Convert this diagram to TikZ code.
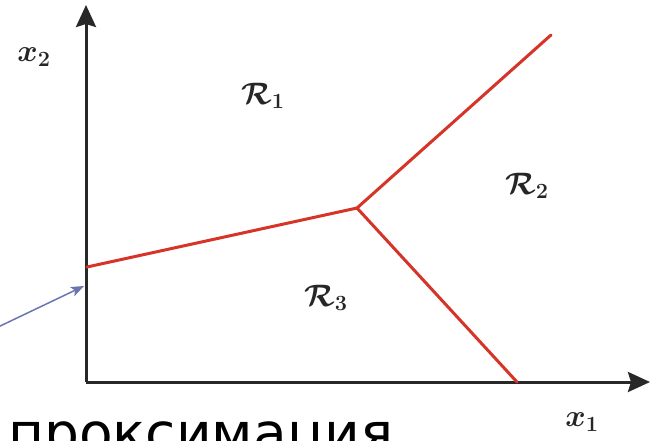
\RequirePackage{fix-cm}
\documentclass[tikz,border=0pt]{standalone}
\usepackage{fontspec}
\newfontfamily\ruf{DejaVu Sans}
\usetikzlibrary{arrows.meta}
\definecolor{bnd}{RGB}{214,52,40}
\definecolor{axc}{RGB}{40,40,40}
\definecolor{ptr}{RGB}{106,118,176}
\tikzset{
  axis/.style={draw=axc,line width=3pt,-{Stealth[length=22pt,width=20pt,inset=3pt]}},
  border/.style={draw=bnd,line width=3pt,line cap=round,line join=round},
  pointer/.style={draw=ptr,line width=1.5pt,-{Stealth[length=13pt,width=10pt,inset=3pt]}},
  lbl/.style={inner sep=0pt,text=black!85,font=\fontsize{31}{36}\selectfont\boldmath},
}
\begin{document}
\begin{tikzpicture}[x=1pt,y=-1pt]
\useasboundingbox (0,0) rectangle (654,440);
\clip (0,0) rectangle (654,440);
\coordinate (O) at (86,382);
\coordinate (ytip) at (86,5);
\coordinate (xtip) at (650,382);
\coordinate (L) at (87,267);
\coordinate (J) at (357,208);
\coordinate (TR) at (551,35);
\coordinate (B) at (517,382);
\coordinate (ps) at (-4,328);
\coordinate (pe) at (84,286);
\draw[axis] (O) -- (ytip);
\draw[axis] (O) -- (xtip);
\draw[border] (L) -- (J) -- (TR);
\draw[border] (J) -- (B);
\draw[pointer] (ps) -- (pe);
\node[lbl] (x2) at (34,57) {$x_2$};
\node[lbl] (x1) at (582,422) {$x_1$};
\node[lbl] (R1) at (263,96) {$\mathcal{R}_1$};
\node[lbl] (R2) at (527,186) {$\mathcal{R}_2$};
\node[lbl] (R3) at (326,298) {$\mathcal{R}_3$};
\node[anchor=base west,inner sep=0pt,font=\ruf\fontsize{55}{60}\selectfont] (txt) at (8,452) {проксимация};
\end{tikzpicture}
\end{document}
